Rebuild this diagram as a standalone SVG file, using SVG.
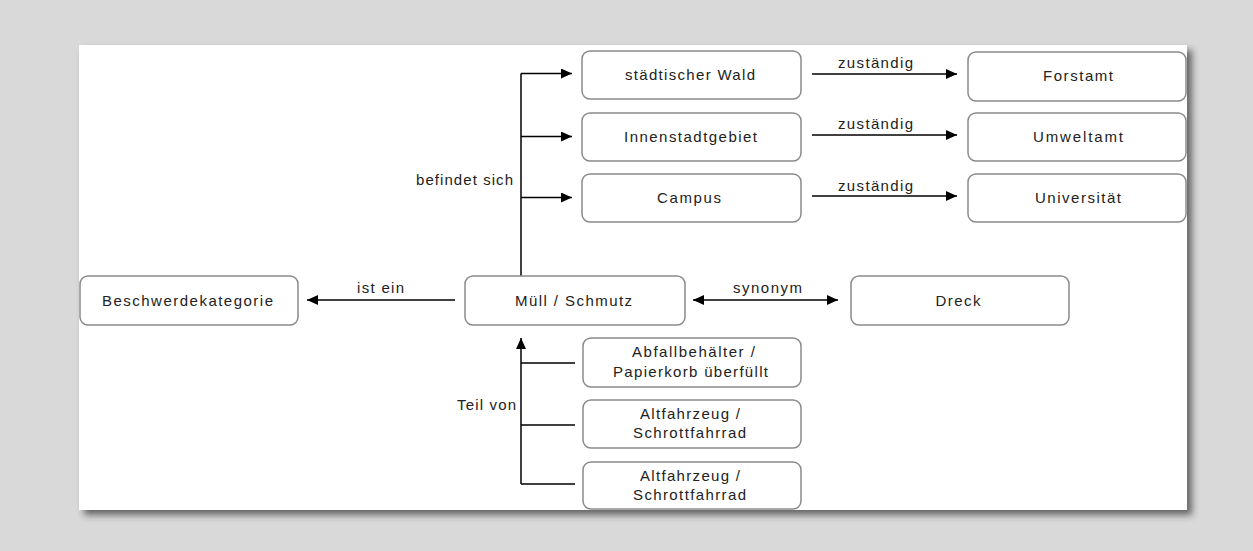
<svg xmlns="http://www.w3.org/2000/svg" width="1253" height="551" viewBox="0 0 1253 551">
<defs>
<filter id="shadow" x="-5%" y="-5%" width="110%" height="115%">
<feDropShadow dx="5" dy="5" stdDeviation="3.5" flood-color="#333" flood-opacity="0.7"/>
</filter>
<marker id="arr" viewBox="0 0 11 10" refX="11" refY="5" markerWidth="11" markerHeight="10" markerUnits="userSpaceOnUse" orient="auto-start-reverse">
<path d="M0,0 L11,5 L0,10 z" fill="#000"/>
</marker>
</defs>
<style>
.box{fill:#fff;stroke:#8a8a8a;stroke-width:1.5}
.t{font-family:"Liberation Sans",Arial,sans-serif;font-size:15px;fill:#222;text-anchor:middle}
.ln{stroke:#000;stroke-width:1.5;fill:none}
</style>
<rect width="1253" height="551" fill="#d9d9d9"/>
<rect x="79" y="45" width="1108" height="465" fill="#fff" filter="url(#shadow)"/>

<g id="connectors">
<line class="ln" x1="521" y1="276" x2="521" y2="73.5"/>
<line class="ln" x1="521" y1="73.5" x2="572" y2="73.5" marker-end="url(#arr)"/>
<line class="ln" x1="521" y1="136.5" x2="572" y2="136.5" marker-end="url(#arr)"/>
<line class="ln" x1="521" y1="197.5" x2="572" y2="197.5" marker-end="url(#arr)"/>
<text class="t" x="464.5" y="185" textLength="97">befindet sich</text>
<line class="ln" x1="812" y1="74" x2="957" y2="74" marker-end="url(#arr)"/>
<line class="ln" x1="812" y1="135" x2="957" y2="135" marker-end="url(#arr)"/>
<line class="ln" x1="812" y1="196" x2="957" y2="196" marker-end="url(#arr)"/>
<text class="t" x="875.5" y="68" textLength="75">zuständig</text>
<text class="t" x="875.5" y="129" textLength="75">zuständig</text>
<text class="t" x="875.5" y="191" textLength="75">zuständig</text>
<line class="ln" x1="455" y1="300" x2="307" y2="300" marker-end="url(#arr)"/>
<text class="t" x="380.5" y="293" textLength="47">ist ein</text>
<line class="ln" x1="693" y1="300" x2="838" y2="300" marker-start="url(#arr)" marker-end="url(#arr)"/>
<text class="t" x="767.5" y="293" textLength="69">synonym</text>
<line class="ln" x1="521" y1="484" x2="521" y2="338" marker-end="url(#arr)"/>
<line class="ln" x1="521" y1="363" x2="575" y2="363"/>
<line class="ln" x1="521" y1="425" x2="575" y2="425"/>
<line class="ln" x1="521" y1="484" x2="575" y2="484"/>
<text class="t" x="486.5" y="410" textLength="59">Teil von</text>
</g>

<g id="n-wald"><rect class="box" x="582" y="51" width="219" height="48" rx="8"/><text class="t" x="690" y="80" textLength="130">städtischer Wald</text></g>
<g id="n-innenstadt"><rect class="box" x="582" y="113" width="219" height="48" rx="8"/><text class="t" x="690.5" y="142" textLength="133">Innenstadtgebiet</text></g>
<g id="n-campus"><rect class="box" x="582" y="174" width="219" height="48" rx="8"/><text class="t" x="689" y="203" textLength="64">Campus</text></g>
<g id="n-forstamt"><rect class="box" x="968" y="52" width="218" height="49" rx="8"/><text class="t" x="1078" y="81" textLength="70">Forstamt</text></g>
<g id="n-umweltamt"><rect class="box" x="968" y="113" width="218" height="48" rx="8"/><text class="t" x="1078" y="142" textLength="90">Umweltamt</text></g>
<g id="n-uni"><rect class="box" x="968" y="174" width="218" height="48" rx="8"/><text class="t" x="1078" y="203" textLength="86">Universität</text></g>
<g id="n-beschwerde"><rect class="box" x="80" y="276" width="218" height="49" rx="8"/><text class="t" x="187.5" y="306" textLength="171">Beschwerdekategorie</text></g>
<g id="n-muell"><rect class="box" x="465" y="276" width="220" height="49" rx="8"/><text class="t" x="573.5" y="306" textLength="117">Müll / Schmutz</text></g>
<g id="n-dreck"><rect class="box" x="851" y="276" width="218" height="49" rx="8"/><text class="t" x="958" y="306" textLength="45">Dreck</text></g>
<g id="n-abfall"><rect class="box" x="583" y="338" width="218" height="49" rx="8"/><text class="t" x="693.5" y="357" textLength="123">Abfallbehälter /</text><text class="t" x="690.5" y="377" textLength="155">Papierkorb überfüllt</text></g>
<g id="n-alt1"><rect class="box" x="583" y="400" width="218" height="48" rx="8"/><text class="t" x="690" y="419" textLength="100">Altfahrzeug /</text><text class="t" x="689.5" y="438" textLength="113">Schrottfahrrad</text></g>
<g id="n-alt2"><rect class="box" x="583" y="462" width="218" height="47" rx="8"/><text class="t" x="690" y="481" textLength="100">Altfahrzeug /</text><text class="t" x="689.5" y="500" textLength="113">Schrottfahrrad</text></g>
</svg>
